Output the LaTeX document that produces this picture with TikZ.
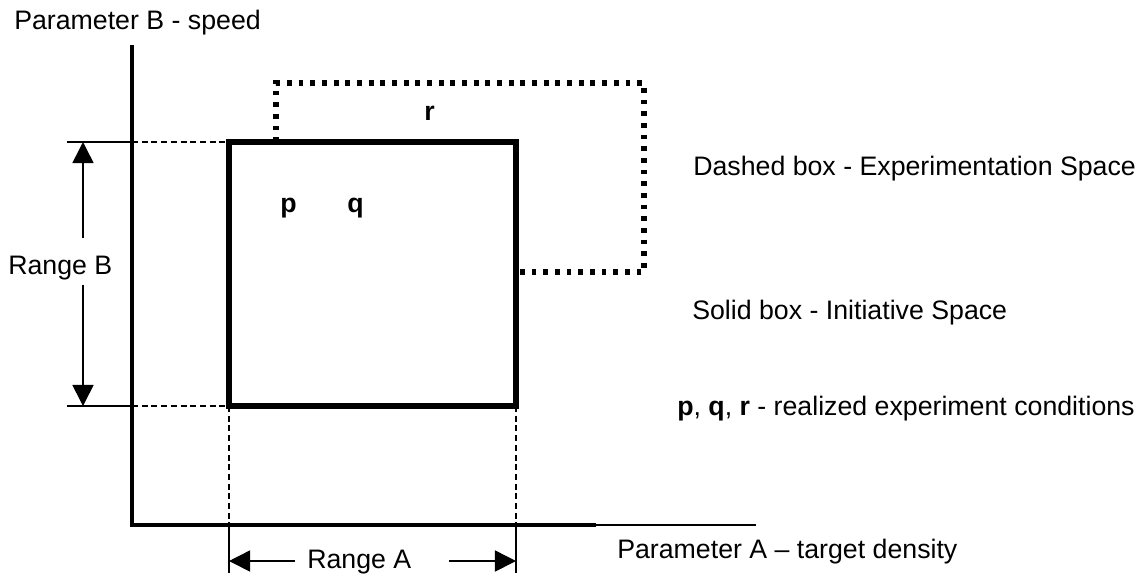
\documentclass[tikz,border=0pt]{standalone}
\usepackage{fontspec}
\setmainfont{Liberation Sans}
\usetikzlibrary{arrows.meta}

\begin{document}
\begin{tikzpicture}[x=0.025cm, y=-0.025cm,
    every node/.style={inner sep=0pt, font=\fontsize{19}{22}\selectfont},
    txt/.style={anchor=base west},
    axis/.style={line width=2.9pt},
    fine/.style={line width=1pt},
    guide/.style={line width=1pt, dash pattern=on 4.3pt off 2.6pt},
    solidbox/.style={line width=3.7pt},
    dotbox/.style={line width=3.6pt, dash pattern=on 3.4pt off 4.9pt},
    rangearrow/.style={line width=1.1pt, -{Triangle[length=15pt, width=15pt]}}]

    \useasboundingbox (0,0) rectangle (1141,575);

    % Corners
    \coordinate (origin) at (132,525);
    \coordinate (ytop) at (132,45);
    \coordinate (xend) at (596,525);
    \coordinate (xthin) at (756,525);
    \coordinate (s1) at (229,142);
    \coordinate (s2) at (516,142);
    \coordinate (s3) at (516,406);
    \coordinate (s4) at (229,406);
    \coordinate (d1) at (276,142);
    \coordinate (d2) at (276,83);
    \coordinate (d3) at (644,83);
    \coordinate (d4) at (644,272);
    \coordinate (d5) at (516,272);

    % Axes
    \draw[axis] (ytop) -- (origin) -- (xend);
    \draw[fine] (xend) -- (xthin);

    % Boxes
    \draw[solidbox] (s1) -- (s2) -- (s3) -- (s4) -- cycle;
    \draw[dotbox] (d1) -- (d2) -- (d3) -- (d4) -- (d5);

    % Guide lines
    \coordinate (bt) at (67,142);
    \coordinate (bb) at (67,406);
    \coordinate (al) at (229,573);
    \coordinate (ar) at (516,573);
    \draw[fine] (bt) -- (ytop |- s1);
    \draw[fine] (bb) -- (ytop |- s4);
    \draw[guide] (ytop |- s1) -- (s1);
    \draw[guide] (ytop |- s4) -- (s4);
    \draw[guide] (s4) -- (s4 |- origin);
    \draw[guide] (s3) -- (s3 |- origin);
    \draw[fine] (s4 |- origin) -- (al);
    \draw[fine] (s3 |- origin) -- (ar);

    % Labels
    \node[txt] (parB) at (14,29) {Parameter B - speed};
    \node[txt] (parA) at (617,558) {Parameter A – target density};
    \node[txt] (rangeB) at (8,274) {Range B};
    \node[txt] (rangeA) at (307,568) {Range A};
    \node[txt] (p) at (280,212) {\textbf{p}};
    \node[txt] (q) at (347,212) {\textbf{q}};
    \node[txt] (r) at (424,120) {\textbf{r}};
    \node[txt] (dashed) at (693,175) {Dashed box - Experimentation Space};
    \node[txt] (solid) at (692,319) {Solid box - Initiative Space};
    \node[txt] (pqr) at (677,415) {\textbf{p}, \textbf{q}, \textbf{r} - realized experiment conditions};

    % Range arrows
    \coordinate (rbup) at (83,238);
    \coordinate (rbdown) at (83,285);
    \coordinate (raleft) at (295,561);
    \coordinate (raright) at (449,561);
    \draw[rangearrow] (rbup) -- (rbup |- s1);
    \draw[rangearrow] (rbdown) -- (rbdown |- s4);
    \draw[rangearrow] (raleft) -- (raleft -| s4);
    \draw[rangearrow] (raright) -- (raright -| s3);

\end{tikzpicture}
\end{document}
